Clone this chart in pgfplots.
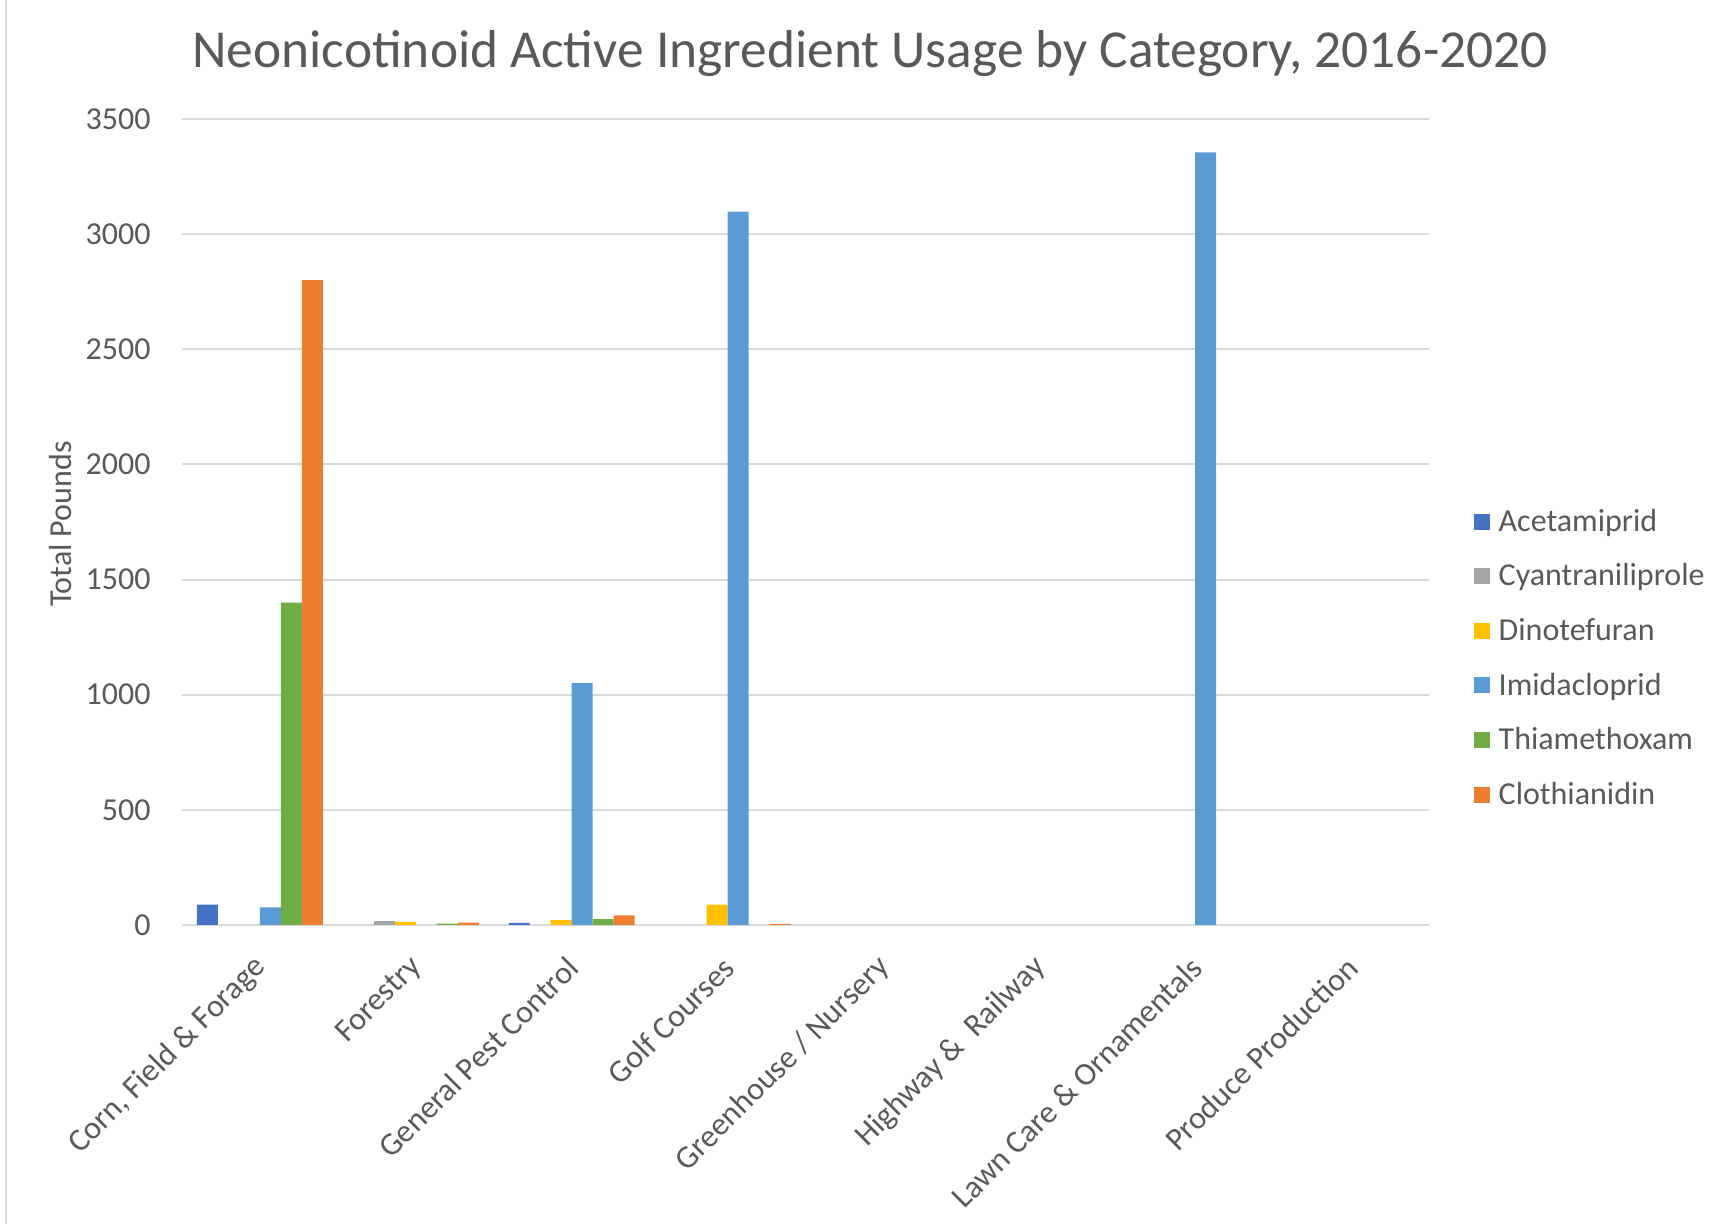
\documentclass[border=0pt]{standalone}
\usepackage{pgfplots}
\pgfplotsset{compat=1.18}
\usepackage{fontspec}
\setmainfont{Carlito}
\definecolor{txt}{HTML}{595959}
\definecolor{gridc}{HTML}{D9D9D9}
\definecolor{cA}{HTML}{4472C4}
\definecolor{cB}{HTML}{A5A5A5}
\definecolor{cC}{HTML}{FFC000}
\definecolor{cD}{HTML}{5B9BD5}
\definecolor{cE}{HTML}{70AD47}
\definecolor{cF}{HTML}{ED7D31}
\begin{document}
\begin{tikzpicture}
\useasboundingbox (0,0) rectangle (864.5pt,612pt);
\draw[gridc, line width=1pt] (2.75pt,0) -- (2.75pt,612pt);
\node[font=\fontsize{26.7}{32}\selectfont, text=txt] at (435pt,585pt) {Neonicotinoid Active Ingredient Usage by Category, 2016-2020};
\begin{axis}[
  at={(91pt,149.5pt)}, anchor=south west,
  width=623.5pt, height=403pt, scale only axis,
  ybar=0pt, bar width=10.5pt,
  xmin=-0.5, xmax=7.5, ymin=0, ymax=3500,
  ytick={0,500,...,3500},
  xtick={0,...,7},
  xticklabels={{Corn, Field \& Forage},Forestry,General Pest Control,Golf Courses,Greenhouse / Nursery,{Highway \&~ Railway},Lawn Care \& Ornamentals,Produce Production},
  xticklabel style={xshift=0.7pt, yshift=-14.4pt, rotate=45, anchor=east, inner sep=0pt, font=\fontsize{16}{19}\selectfont, text=txt},
  yticklabel style={anchor=east, inner sep=0pt, xshift=-15.5pt, font=\fontsize{16}{19}\selectfont, text=txt},
  /pgf/number format/assume math mode=true,
  /pgf/number format/1000 sep={},
  ymajorgrids, grid style={gridc, line width=1pt},
  axis line style={draw=none},
  major tick style={draw=none},
  ylabel={Total Pounds},
  ylabel style={at={(axis description cs:-0.0972,0.4975)}, anchor=center, font=\fontsize{16}{19}\selectfont, text=txt},
  legend cell align=left,
  legend style={at={(axis description cs:1.036,0.331)}, anchor=west, draw=none, fill=none,
    font=\fontsize{16}{19}\selectfont, text=txt, row sep=10.7pt, inner sep=0pt,
    nodes={inner xsep=4.2pt}},
  legend image code/.code={\fill[#1] (0pt,-4pt) rectangle (8pt,4pt);},
]
\addplot[fill=cA, draw=none] coordinates {(0,88) (2,9)};
\addplot[fill=cB, draw=none] coordinates {(1,17)};
\addplot[fill=cC, draw=none] coordinates {(1,13) (2,21) (3,88)};
\addplot[fill=cD, draw=none] coordinates {(0,76) (2,1050) (3,3098) (6,3355)};
\addplot[fill=cE, draw=none] coordinates {(0,1400) (1,6) (2,25)};
\addplot[fill=cF, draw=none] coordinates {(0,2800) (1,10) (2,42) (3,5)};
\legend{Acetamiprid,Cyantraniliprole,Dinotefuran,Imidacloprid,Thiamethoxam,Clothianidin}
\end{axis}
\end{tikzpicture}
\end{document}
